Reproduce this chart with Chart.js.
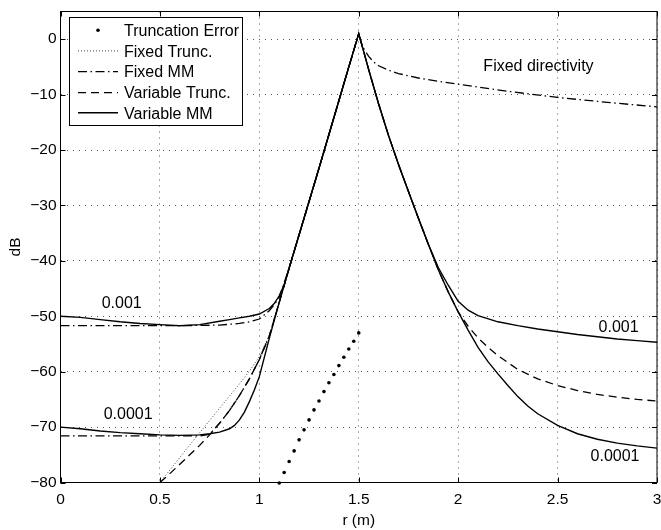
<!DOCTYPE html>
<html>
<head>
<meta charset="utf-8">
<script src="https://cdn.jsdelivr.net/npm/chart.js@4/dist/chart.umd.min.js"></script>
<style>
html,body{margin:0;padding:0;background:#fff;}
canvas{display:block;}
</style>
</head>
<body>
<canvas id="c" width="661" height="530"></canvas>
<script>
// ---------- data ----------
const xTicks = [0, 0.5, 1, 1.5, 2, 2.5, 3];
const yTicks = [-80, -70, -60, -50, -40, -30, -20, -10, 0];

// Truncation Error (sparse dots)
const rTruncErr = [1.1,1.125,1.15,1.175,1.2,1.225,1.25,1.275,1.3,1.325,1.35,1.375,1.4,1.425,1.45,1.475,1.5];
const dbTruncErr = [-80.1,-78.2,-76.2,-74.3,-72.3,-70.5,-68.7,-66.9,-65.3,-63.6,-62.0,-60.5,-58.9,-57.4,-55.9,-54.5,-53.0];

// Fixed Trunc. (dotted)
const rFixTrunc = [0.5,0.6,0.7,0.8,0.9,0.95,1.0,1.05,1.1,1.15,1.2,1.25,1.3,1.35,1.4,1.45,1.5];
const dbFixTrunc = [-80,-75.5,-71.0,-66.6,-62.2,-59.9,-57.3,-53.4,-47.5,-41.3,-35.3,-29.3,-23.3,-17.2,-11.1,-5.0,1.0];

// Fixed MM, noise 0.001 (dash-dot), incl. the fixed-directivity branch
const rFixMM1 = [0,0.2,0.4,0.6,0.8,0.9,0.95,1.0,1.05,1.075,1.1,1.15,1.2,1.25,1.3,1.35,1.4,1.45,1.5,1.51,1.525,1.55,1.575,1.6,1.65,1.7,1.8,1.9,2.0,2.25,2.5,2.75,3.0];
const dbFixMM1 = [-51.7,-51.7,-51.7,-51.7,-51.6,-51.3,-51.0,-50.5,-49.0,-47.9,-46.6,-41.3,-35.3,-29.3,-23.3,-17.2,-11.1,-5.0,1.0,-0.4,-1.7,-3.1,-4.1,-4.8,-5.6,-6.2,-7.0,-7.6,-8.1,-9.4,-10.5,-11.4,-12.2];

// Fixed MM, noise 0.0001 (dash-dot)
const rFixMM2 = [0,0.2,0.4,0.6,0.7,0.75,0.8,0.85,0.9,0.95,1.0,1.05,1.1,1.15,1.2,1.25,1.3,1.35,1.4,1.45,1.5];
const dbFixMM2 = [-71.6,-71.6,-71.6,-71.6,-71.6,-71.3,-69.3,-67.0,-64.3,-61.3,-57.8,-53.6,-47.5,-41.3,-35.3,-29.3,-23.3,-17.2,-11.1,-5.0,1.0];

// Variable Trunc. (dashed)
const rVarTrunc = [0.5,0.55,0.6,0.65,0.7,0.75,0.8,0.85,0.9,0.95,1.0,1.05,1.1,1.15,1.2,1.25,1.3,1.35,1.4,1.45,1.5,1.55,1.6,1.65,1.7,1.75,1.8,1.85,1.9,1.95,2.0,2.05,2.1,2.15,2.2,2.3,2.4,2.5,2.6,2.7,2.8,2.9,3.0];
const dbVarTrunc = [-80,-78.4,-76.7,-75.0,-73.3,-71.4,-69.3,-67.0,-64.3,-61.3,-57.8,-53.6,-47.5,-41.3,-35.3,-29.3,-23.3,-17.2,-11.1,-5.0,1.0,-5.5,-11.7,-17.4,-22.6,-27.5,-32.3,-37.0,-41.6,-45.6,-49.2,-51.8,-53.9,-55.6,-57.1,-59.6,-61.3,-62.5,-63.4,-64.1,-64.6,-65.0,-65.3];

// Variable MM, noise 0.001 (solid)
const rVarMM1 = [0,0.1,0.2,0.3,0.4,0.5,0.6,0.7,0.8,0.85,0.9,0.95,1.0,1.05,1.075,1.1,1.125,1.15,1.2,1.25,1.3,1.35,1.4,1.45,1.5,1.55,1.6,1.65,1.7,1.75,1.8,1.85,1.9,1.95,2.0,2.05,2.1,2.2,2.3,2.4,2.5,2.6,2.7,2.8,2.9,3.0];
const dbVarMM1 = [-50,-50.2,-50.6,-51.0,-51.3,-51.5,-51.7,-51.5,-50.9,-50.6,-50.3,-50.0,-49.6,-48.6,-47.7,-46.3,-44.3,-41.3,-35.3,-29.3,-23.3,-17.2,-11.1,-5.0,1.0,-5.5,-11.7,-17.4,-22.6,-27.5,-32.3,-37.0,-41.2,-44.4,-47.3,-48.9,-49.9,-51.0,-51.7,-52.3,-52.8,-53.3,-53.7,-54.1,-54.4,-54.7];

// Variable MM, noise 0.0001 (solid)
const rVarMM2 = [0,0.1,0.2,0.3,0.4,0.5,0.6,0.7,0.75,0.8,0.85,0.875,0.9,0.925,0.95,0.975,1.0,1.05,1.1,1.15,1.2,1.25,1.3,1.35,1.4,1.45,1.5,1.55,1.6,1.65,1.7,1.75,1.8,1.85,1.9,1.95,2.0,2.05,2.1,2.15,2.2,2.25,2.3,2.35,2.4,2.5,2.6,2.7,2.8,2.9,3.0];
const dbVarMM2 = [-70,-70.3,-70.7,-71.0,-71.2,-71.4,-71.5,-71.4,-71.2,-70.9,-70.3,-69.7,-68.7,-67.3,-65.4,-63.3,-60.9,-54.0,-47.5,-41.3,-35.3,-29.3,-23.3,-17.2,-11.1,-5.0,1.0,-5.5,-11.7,-17.4,-22.6,-27.5,-32.3,-37.0,-41.6,-45.6,-49.2,-52.5,-55.6,-58.2,-60.4,-62.5,-64.5,-66.2,-67.6,-69.7,-71.2,-72.2,-72.9,-73.4,-73.8];

// Text labels placed in data coordinates (x, baseline y)
const noteTexts = ['0.001', '0.0001', '0.001', '0.0001', 'Fixed directivity'];
const noteX = [0.308, 0.34, 2.807, 2.789, 2.404];
const noteY = [-48.5, -68.5, -52.8, -76.1, -5.7];

const legendLabels = ['Truncation Error', 'Fixed Trunc.', 'Fixed MM', 'Variable Trunc.', 'Variable MM'];

// ---------- styles ----------
const FONT = '"Liberation Sans", Arial, Helvetica, sans-serif';
const DOTTED = {borderColor: '#444', borderWidth: 1, borderDash: [1, 2]};
const DASHDOT = {borderColor: '#000', borderWidth: 1.3, borderDash: [9, 3.5, 1.5, 3.5]};
const DASHED = {borderColor: '#000', borderWidth: 1.3, borderDash: [8, 5]};
const SOLID = {borderColor: '#000', borderWidth: 1.4, borderDash: []};

const zip = (xs, ys) => xs.map((v, i) => ({x: v, y: ys[i]}));
const lineDs = (label, xs, ys, style) => Object.assign({
  label, data: zip(xs, ys), pointRadius: 0, tension: 0, fill: false,
  borderCapStyle: 'butt', showLine: true
}, style);

const datasets = [
  {label: 'Truncation Error', data: zip(rTruncErr, dbTruncErr), showLine: false,
   pointRadius: 1.8, pointBackgroundColor: '#000', pointBorderWidth: 0, borderColor: '#000', clip: false},
  lineDs('Variable MM 0.001', rVarMM1, dbVarMM1, SOLID),
  lineDs('Variable MM 0.0001', rVarMM2, dbVarMM2, SOLID),
  lineDs('Variable Trunc.', rVarTrunc, dbVarTrunc, DASHED),
  lineDs('Fixed MM 0.001', rFixMM1, dbFixMM1, DASHDOT),
  lineDs('Fixed MM 0.0001', rFixMM2, dbFixMM2, DASHDOT),
  lineDs('Fixed Trunc.', rFixTrunc, dbFixTrunc, DOTTED)
];

const legendStyles = [null, DOTTED, DASHDOT, DASHED, SOLID];

const extras = {
  id: 'extras',
  afterDraw(chart) {
    const {ctx, chartArea: a, scales: {x, y}} = chart;
    ctx.save();
    // frame
    ctx.setLineDash([]);
    ctx.strokeStyle = '#000';
    ctx.lineWidth = 1;
    ctx.strokeRect(a.left, a.top, a.right - a.left, a.bottom - a.top);
    // inward ticks on all four sides
    const L = 5;
    ctx.beginPath();
    xTicks.forEach(v => {
      const p = Math.round(x.getPixelForValue(v)) + 0.5;
      ctx.moveTo(p, a.bottom); ctx.lineTo(p, a.bottom - L);
      ctx.moveTo(p, a.top); ctx.lineTo(p, a.top + L);
    });
    yTicks.forEach(v => {
      const p = Math.round(y.getPixelForValue(v)) + 0.5;
      ctx.moveTo(a.left, p); ctx.lineTo(a.left + L, p);
      ctx.moveTo(a.right, p); ctx.lineTo(a.right - L, p);
    });
    ctx.stroke();

    // notes
    ctx.fillStyle = '#000';
    ctx.font = '16px ' + FONT;
    ctx.textAlign = 'center';
    ctx.textBaseline = 'alphabetic';
    noteTexts.forEach((t, i) => {
      ctx.fillText(t, x.getPixelForValue(noteX[i]), y.getPixelForValue(noteY[i]));
    });

    // legend box
    const bx = 69.5, by = 17.5, bw = 173, bh = 108;
    ctx.fillStyle = '#fff';
    ctx.fillRect(bx, by, bw, bh);
    ctx.strokeStyle = '#000';
    ctx.lineWidth = 1;
    ctx.setLineDash([]);
    ctx.strokeRect(bx, by, bw, bh);
    ctx.font = '16px ' + FONT;
    ctx.textAlign = 'left';
    ctx.textBaseline = 'alphabetic';
    const baselines = [36, 56.7, 77.4, 98.4, 118.6];
    legendLabels.forEach((lab, i) => {
      const base = baselines[i];
      const ly = base - 5.8;
      const st = legendStyles[i];
      if (!st) {
        ctx.fillStyle = '#000';
        ctx.beginPath();
        ctx.arc(98, ly, 1.8, 0, Math.PI * 2);
        ctx.fill();
      } else {
        ctx.strokeStyle = st.borderColor;
        ctx.lineWidth = st.borderWidth;
        ctx.setLineDash(st.borderDash);
        ctx.beginPath();
        ctx.moveTo(78, ly);
        ctx.lineTo(118, ly);
        ctx.stroke();
        ctx.setLineDash([]);
      }
      ctx.fillStyle = '#000';
      ctx.fillText(lab, 124, base);
    });
    ctx.restore();
  }
};

const fmt = v => {
  const s = String(Math.abs(v));
  return v < 0 ? '\u2212' + s : s;
};

new Chart(document.getElementById('c'), {
  type: 'scatter',
  data: {datasets},
  options: {
    responsive: false,
    animation: false,
    devicePixelRatio: 1,
    layout: {padding: {top: 11.5, right: 1.5, left: 0, bottom: 0}},
    plugins: {legend: {display: false}, tooltip: {enabled: false}},
    scales: {
      x: {
        type: 'linear', min: 0, max: 3,
        afterBuildTicks: s => { s.ticks = xTicks.map(v => ({value: v})); },
        ticks: {font: {family: FONT, size: 15.5}, color: '#000', padding: 8, maxRotation: 0, autoSkip: false,
                callback: v => fmt(v)},
        grid: {color: '#555', lineWidth: 1, drawTicks: false},
        border: {display: false, dash: [1, 5]},
        title: {display: true, text: 'r (m)', font: {family: FONT, size: 15.5}, color: '#000', padding: {top: 0, bottom: 0}},
        afterFit: s => { s.height = 47.5; s.paddingLeft = 0; s.paddingRight = 0; }
      },
      y: {
        type: 'linear', min: -80, max: 5,
        afterBuildTicks: s => { s.ticks = yTicks.map(v => ({value: v})); },
        ticks: {font: {family: FONT, size: 15.5}, color: '#000', padding: 4, autoSkip: false,
                callback: v => fmt(v)},
        grid: {color: '#555', lineWidth: 1, drawTicks: false},
        border: {display: false, dash: [1, 5]},
        title: {display: true, text: 'dB', font: {family: FONT, size: 15.5}, color: '#000', padding: {top: 6, bottom: 0}},
        afterFit: s => { s.width = 60.5; s.paddingTop = 0; s.paddingBottom = 0; }
      }
    }
  },
  plugins: [extras]
});
</script>
</body>
</html>
